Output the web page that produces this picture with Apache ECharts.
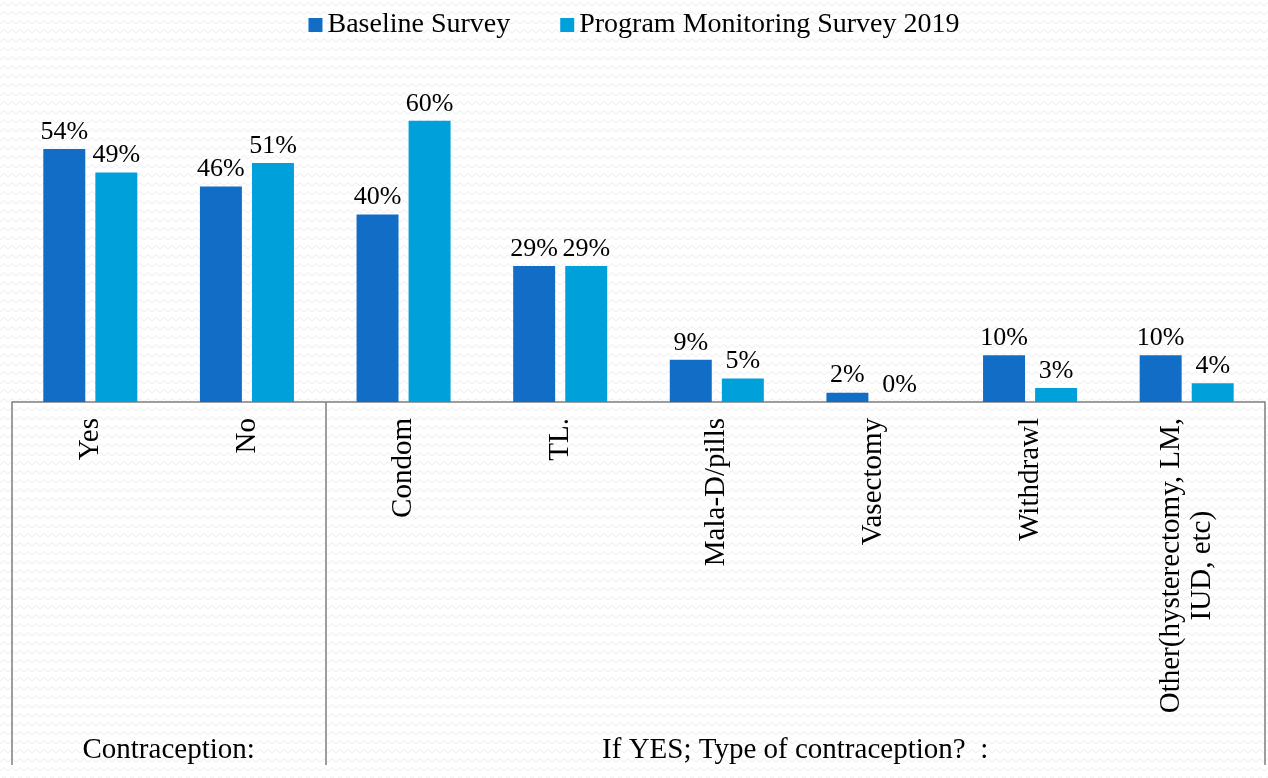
<!DOCTYPE html>
<html>
<head>
<meta charset="utf-8">
<script src="https://cdn.jsdelivr.net/npm/echarts@6/dist/echarts.min.js"></script>
<style>
  html, body { margin: 0; padding: 0; background: #fff; }
  #container { width: 1268px; height: 778px; }
</style>
</head>
<body>
<div id="container"></div>
<script>
var categories = ['Yes', 'No', 'Condom', 'TL.', 'Mala-D/pills', 'Vasectomy', 'Withdrawl', 'Other(hysterectomy, LM,\nIUD, etc)'];
var baseline = [54, 46, 40, 29, 9, 2, 10, 10];
var monitoring = [49, 51, 60, 29, 5, 0, 3, 4];
var seriesNames = ['Baseline Survey', 'Program Monitoring Survey 2019'];
var groupLabels = {1: 'Contraception:', 5: 'If YES; Type of contraception?  :'};

var FONT = '"Liberation Serif", serif';

// light zigzag background like the slide template
var pat = document.createElement('canvas');
pat.width = 8; pat.height = 9;
var ctx = pat.getContext('2d');
ctx.fillStyle = '#ffffff';
ctx.fillRect(0, 0, 8, 9);
ctx.strokeStyle = '#ececec';
ctx.lineWidth = 1;
ctx.beginPath();
ctx.moveTo(0, 6); ctx.lineTo(4, 2.5); ctx.lineTo(8, 6);
ctx.stroke();

var myChart = echarts.init(document.getElementById('container'));
var labelStyle = {
    show: true,
    position: 'top',
    distance: 4,
    color: '#000',
    fontFamily: FONT,
    fontSize: 26,
    formatter: function (p) { return p.value + '%'; }
};
var option = {
    animation: false,
    backgroundColor: { image: pat, repeat: 'repeat' },
    textStyle: { fontFamily: FONT },
    legend: {
        top: 6,
        left: 'center',
        icon: 'rect',
        itemWidth: 14,
        itemHeight: 14,
        itemGap: 50,
        textStyle: { fontFamily: FONT, fontSize: 28, color: '#000' },
        data: seriesNames
    },
    grid: { left: 12, right: 3, top: 74, bottom: 376 },
    xAxis: [{
        type: 'category',
        data: categories,
        axisLine: { lineStyle: { color: '#7f7f7f', width: 1.5 } },
        axisTick: {
            show: true,
            length: 363,
            interval: function (i) { return i === 0 || i === 2; },
            lineStyle: { color: '#7f7f7f', width: 1.5 }
        },
        axisLabel: {
            interval: 0,
            rotate: 90,
            margin: 16,
            color: '#000',
            fontFamily: FONT,
            fontSize: 29,
            lineHeight: 31,
            formatter: function (v) {
                var parts = v.split('\n');
                if (parts.length === 1) return v;
                return '{a|' + parts[0] + '}\n{c|' + parts[1] + '}';
            },
            rich: {
                a: { fontFamily: FONT, fontSize: 29, lineHeight: 31, color: '#000' },
                c: { fontFamily: FONT, fontSize: 29, lineHeight: 31, color: '#000', align: 'center' }
            }
        }
    }, {
        type: 'value',
        min: 0,
        max: 8,
        interval: 1,
        position: 'bottom',
        offset: 326,
        axisLine: { show: false },
        axisTick: { show: false },
        splitLine: { show: false },
        axisLabel: {
            margin: 8,
            color: '#000',
            fontFamily: FONT,
            fontSize: 29,
            formatter: function (v) { return groupLabels[v] || ''; }
        }
    }],
    yAxis: {
        type: 'value',
        min: 0,
        max: 70,
        show: false
    },
    series: [{
        name: seriesNames[0],
        type: 'bar',
        xAxisIndex: 0,
        data: baseline,
        barWidth: '26.8%',
        barGap: '24%',
        itemStyle: { color: '#126DC6' },
        label: labelStyle
    }, {
        name: seriesNames[1],
        type: 'bar',
        xAxisIndex: 0,
        data: monitoring,
        barWidth: '26.8%',
        itemStyle: { color: '#00A1DA' },
        label: labelStyle
    }]
};
myChart.setOption(option);
</script>
</body>
</html>
